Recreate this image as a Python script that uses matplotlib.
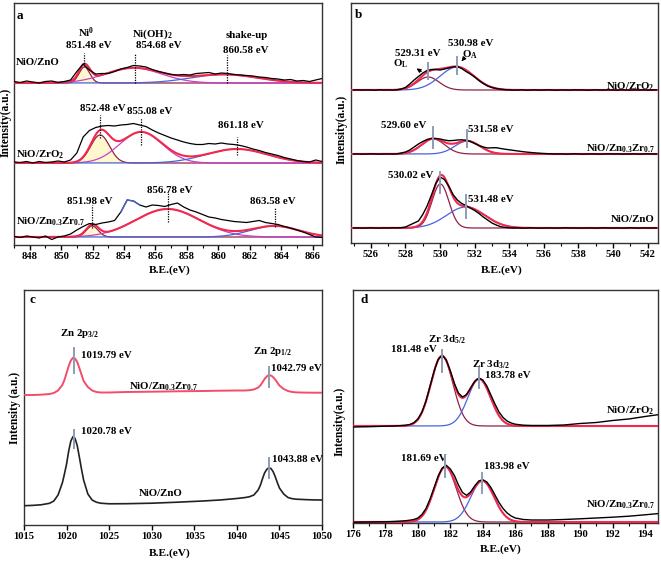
"""XPS spectra of the NiO catalysts: Ni 2p (a), O 1s (b), Zn 2p (c) and Zr 3d (d)."""

import numpy as np
import matplotlib
matplotlib.use("Agg")
import matplotlib.pyplot as plt
from matplotlib.ticker import MultipleLocator

plt.rcParams["font.family"] = "Liberation Serif"
plt.rcParams["font.weight"] = "bold"
plt.rcParams["mathtext.fontset"] = "custom"
plt.rcParams["mathtext.rm"] = "Liberation Serif:bold"
plt.rcParams["mathtext.it"] = "Liberation Serif:bold"
plt.rcParams["mathtext.bf"] = "Liberation Serif:bold"

# --- (a) Ni 2p: measured spectra + fitted components -----------------------
a_energy = np.linspace(847.0, 866.6, 50)
a_zno = [163.5, 162.5, 164, 163, 162, 163.5, 164, 162.5, 163.5, 165,
         173.5, 181, 175, 171, 171.5, 171.5, 173.5, 176, 177.5, 179.5,
         179, 178, 175.5, 173.5, 172, 170.5, 170, 170.5, 170, 171.5,
         172, 172.5, 171, 172, 171.5, 170.5, 170, 169.5, 169, 168,
         167.5, 166.5, 166, 165, 165.5, 164, 164.5, 163.5, 165, 166.5]
a_zro2 = [83, 82.5, 83.5, 82, 83.5, 82.5, 83, 84, 83, 85,
          92, 108, 114.5, 117.5, 119, 119.5, 119, 120, 120.5, 121.5,
          120, 118.5, 115, 112, 109.5, 107, 105, 103, 101.5, 100.5,
          100.5, 101.5, 101, 102, 101, 100.5, 99.5, 98, 96, 94.5,
          92.5, 91, 89.5, 87.5, 86, 84.5, 83.5, 83, 85, 83.5]
a_znzr = [8.5, 7.5, 9, 8, 7, 9, 5.5, 8, 9, 11,
          15, 18.5, 21.5, 20.5, 22, 23, 24.5, 33, 45, 44,
          40, 38, 40, 39.5, 38.5, 40.5, 42, 38, 35, 33,
          30.5, 28, 27, 25.5, 24.5, 23.5, 23, 22.5, 23.5, 24.5,
          22.5, 21.5, 20.5, 18.5, 17, 15, 13, 10.5, 8, 7.5]
a_zno_base, a_zro2_base, a_znzr_base = 162, 82, 8
a_zno_pos = [851.48, 854.6, 860.4]
a_zno_height = [16, 15, 8.5]
a_zno_fwhm = [0.8, 4.2, 5.0]
a_zro2_pos = [852.48, 855.08, 861.18]
a_zro2_height = [28, 31, 14]
a_zro2_fwhm = [1.4, 3.2, 4.6]
a_znzr_pos = [851.98, 856.78, 863.58]
a_znzr_height = [11, 28, 11]
a_znzr_fwhm = [0.9, 4.8, 3.6]

# --- (b) O 1s ----------------------------------------------------------------
b_energy = np.linspace(525.0, 542.5, 71)
b_zro2 = [153, 153.2, 152.9, 153.1, 153, 152.8, 153.2, 153, 153.1, 152.9, 153.2,
          154, 155.5, 159, 163, 166.5, 170, 172.5, 173.5, 173.5, 173, 174, 175,
          176, 176.5, 174.5, 171.5, 169, 166, 162.5, 159.5, 157, 155.5, 154.5,
          153.8, 153.3,
          153.1, 152.9, 153, 153.2, 152.8, 153, 153.1, 152.9, 153, 153.2, 153,
          152.8, 153.1, 153, 152.9, 153.2, 153, 153.1, 152.8, 153, 153.2, 152.9,
          153, 153.1, 153, 152.8, 153.2, 153, 152.9, 153.1, 153, 153.2, 152.9,
          153, 153.1]
b_znzr = [89, 89.1, 88.9, 89, 89.2, 89, 88.9, 89.1, 89, 89, 89.1,
          90, 91, 93, 96, 99, 101.5, 103.5, 104.7, 104.5, 104, 103, 102.3,
          102.5, 103, 103.2, 102.8, 101.5, 99.5, 97.5, 96, 95, 95.2, 95.3,
          94.5, 93.8, 93.2, 92.6, 92, 91.4, 90.9, 90.5, 90.1, 89.8, 89.5,
          89.3, 89.1,
          89, 89.1, 88.9, 89, 89.2, 89, 88.9, 89, 89.1, 89, 88.9, 89, 89.2,
          89, 89.1, 88.9, 89, 89, 89.1, 88.9, 89, 89.2, 89, 89]
b_zno = [15, 15.1, 14.9, 15, 15.2, 15, 14.9, 15.1, 15, 15.2, 15.1, 15.3,
         16, 18, 20, 22, 28.5, 37, 48, 59.5, 66, 63.5, 57, 48.5, 43, 39.5,
         37.5, 35, 32.5, 29.5, 26, 23, 20, 18, 16.3, 15.6, 15.2,
         15, 15.1, 14.9, 15, 15.2, 15, 14.9, 15, 15.1, 15, 14.9, 15, 15.2,
         15, 15.1, 14.9, 15, 15, 15.1, 14.9, 15, 15.2, 15, 15, 15.1, 14.9,
         15, 15.2, 15, 14.9, 15.1, 15, 15, 15.1]
b_zro2_base, b_znzr_base, b_zno_base = 153, 89, 15
b_zro2_pos = [529.31, 530.98]
b_zro2_height = [13, 23]
b_zro2_fwhm = [1.5, 2.3]
b_znzr_pos = [529.60, 531.58]
b_znzr_height = [15, 13]
b_znzr_fwhm = [1.6, 1.7]
b_zno_pos = [530.02, 531.48]
b_zno_height = [44, 21]
b_zno_fwhm = [1.15, 2.6]

# --- (c) Zn 2p ---------------------------------------------------------------
c_energy = [1015, 1016, 1017, 1018, 1018.5, 1019, 1019.5, 1019.75, 1020,
            1020.25, 1020.5, 1020.75, 1021, 1021.25, 1021.5, 1021.75, 1022,
            1022.5, 1023, 1023.5, 1024, 1025, 1027, 1030, 1033, 1036, 1038,
            1040, 1041, 1041.5, 1042, 1042.5, 1042.75, 1043, 1043.25, 1043.5,
            1043.75, 1044, 1044.25, 1044.5, 1044.75, 1045, 1045.5, 1046,
            1046.5, 1047, 1048, 1049, 1050]
c_znzr = [130, 130, 130.3, 131, 132, 134.5, 140, 145, 152, 159, 164.5, 167.3,
          166.5, 163, 157, 150.5, 144, 138, 134.5, 133, 132.5, 132.5, 133,
          133.3, 133.7, 134, 134.3, 134.5, 134.5, 134.8, 135.5, 137.5, 139.5,
          142.5, 146, 148.5, 150, 149.5, 148, 145.5, 142.5, 139.5, 136, 134,
          133, 132.6, 132.4, 132.3, 132.3]
c_zno = [19.3, 19.6, 20.2, 21.7, 24, 30, 42, 51, 61, 74, 84, 88.3, 86.5,
         79.5, 68, 56, 45, 31, 25, 22.8, 21.8, 21.2, 21.3, 21.8, 22.8, 24, 25,
         26.5, 27.5, 28.3, 30, 35, 39.5, 46, 52, 55.5, 57.3, 56.5, 53.5, 48.5,
         42.5, 37, 31, 27.5, 26.3, 25.8, 25.4, 25.1, 25]
c_peak_pos = [1020.85, 1043.8]

# --- (d) Zr 3d ---------------------------------------------------------------
d_energy = [176, 177, 178, 178.5, 179, 179.25, 179.5, 179.75, 180, 180.25,
            180.5, 180.75, 181, 181.25, 181.5, 181.75, 182, 182.25, 182.5,
            182.75, 183, 183.25, 183.5, 183.75, 184, 184.25, 184.5, 184.75,
            185, 185.25, 185.5, 185.75, 186, 186.5, 187, 188, 189, 190, 191,
            192, 193, 194, 194.8]
d_zro2 = [96, 96.3, 96.8, 97, 97.5, 97.8, 98.5, 100.3, 104, 111, 122, 137,
          152, 163.5, 167.7, 163, 152, 139.5, 130, 126, 128.5, 135, 141.5,
          145, 143, 137, 128, 119, 111, 105.5, 102, 100, 98.8, 97.8, 97.5,
          97.5, 98, 99.5, 100.5, 102.5, 104, 106.5, 108.3]
d_znzr = [0.8, 1, 1.2, 1.5, 2, 2.3, 2.8, 3.5, 5, 8.5, 14.5, 24, 35.5, 47, 55,
          57.7, 54, 47.5, 38, 30.5, 27.7, 31, 37, 42, 43.3, 41, 35.5, 28,
          20.5, 14.5, 10, 7, 5, 3.5, 3, 3, 3.5, 4.2, 5, 5.8, 6.8, 8.2, 9.4]
d_zro2_base, d_znzr_base = 97, 1
d_zro2_pos = [181.48, 183.78]
d_zro2_height = [70, 47]
d_zro2_fwhm = [1.6, 1.65]
d_znzr_pos = [181.69, 183.98]
d_znzr_height = [55, 41]
d_znzr_fwhm = [1.6, 1.7]

RED = "#f2284c"
MAROON = "#8e2346"
MAGENTA = "#c640c8"
BLUE = "#4a63d8"
PINK = "#f24d6b"
FILL = "#fff8cf"
MARK = "#8d9db2"
W, H = 661, 564

fig = plt.figure(figsize=(W / 100, H / 100), dpi=100)


def panel(x0, y0, x1, y1, xlim, major, minor=None):
    """Axes placed in pixel coordinates; y data runs in pixels above the bottom spine."""
    ax = fig.add_axes([x0 / W, 1 - y1 / H, (x1 - x0) / W, (y1 - y0) / H])
    ax.set_xlim(*xlim)
    ax.set_ylim(0, y1 - y0)
    ax.set_yticks([])
    ax.xaxis.set_major_locator(MultipleLocator(major))
    if minor:
        ax.xaxis.set_minor_locator(MultipleLocator(minor))
    ax.tick_params(axis="x", which="major", direction="out", length=3.5,
                   width=1, labelsize=7.6, pad=1.5)
    ax.tick_params(axis="x", which="minor", direction="out", length=2, width=0.8)
    for sp in ax.spines.values():
        sp.set_linewidth(1.0)
        sp.set_color("#333333")
    return ax


def gauss(x, center, height, fwhm):
    return height * np.exp(-4 * np.log(2) * (x - center) ** 2 / fwhm ** 2)


def draw_fit(ax, base, pos, height, fwhm, colors, fill_first=False):
    grid = np.linspace(*ax.get_xlim(), 700)
    comps = [gauss(grid, p, h, w) for p, h, w in zip(pos, height, fwhm)]
    if fill_first:
        ax.fill_between(grid, base, base + comps[0], color=FILL, lw=0, zorder=1)
    for comp, col in zip(comps, colors):
        ax.plot(grid, base + comp, color=col, lw=0.9, zorder=2)
    ax.plot(grid, base + sum(comps), color=RED, lw=1.5, zorder=3)


def note(ax, x, y, s, ha="center", size=7.8):
    ax.text(x, y, s, ha=ha, va="center", fontsize=size, fontweight="bold")


def marker(ax, x, y_top, y_bot, dotted=False):
    if dotted:
        ax.plot([x, x], [y_bot, y_top], color="k", lw=0.9, ls=(0, (1, 1)), zorder=5)
    else:
        ax.plot([x, x], [y_bot, y_top], color=MARK, lw=1.4, zorder=5)


# --- panel a -----------------------------------------------------------------
ax = panel(14, 3, 322, 245, (847.0, 866.6), 2, 1)
draw_fit(ax, a_zno_base, a_zno_pos, a_zno_height, a_zno_fwhm,
         [MAROON, MAGENTA, BLUE], fill_first=True)
draw_fit(ax, a_zro2_base, a_zro2_pos, a_zro2_height, a_zro2_fwhm,
         [MAROON, MAGENTA, BLUE], fill_first=True)
draw_fit(ax, a_znzr_base, a_znzr_pos, a_znzr_height, a_znzr_fwhm,
         [MAROON, MAGENTA, BLUE], fill_first=True)
for ys in (a_zno, a_zro2, a_znzr):
    ax.plot(a_energy, ys, color="k", lw=0.9, zorder=4)
seg = (a_energy > 853.5) & (a_energy < 855.3)
ax.plot(a_energy[seg], np.array(a_znzr)[seg], color=BLUE, lw=1.0, zorder=4)

marker(ax, 851.48, 192, 179, dotted=True)
marker(ax, 854.68, 191, 162, dotted=True)
marker(ax, 860.58, 190, 162, dotted=True)
marker(ax, 852.48, 130, 107, dotted=True)
marker(ax, 855.08, 127, 100, dotted=True)
marker(ax, 861.18, 108, 90, dotted=True)
marker(ax, 851.98, 40, 17, dotted=True)
marker(ax, 856.78, 52, 23, dotted=True)
marker(ax, 863.58, 37, 18, dotted=True)

note(ax, 847.15, 229, "a", ha="left", size=9.5)
note(ax, 851.58, 212, "Ni$^{0}$")
note(ax, 851.77, 200, "851.48 eV")
note(ax, 855.78, 211, "Ni(OH)$_{2}$")
note(ax, 856.2, 200, "854.68 eV")
note(ax, 861.83, 210, "shake-up")
note(ax, 861.73, 194.5, "860.58 eV")
note(ax, 847.13, 182.5, "NiO/ZnO", ha="left")
note(ax, 852.67, 136.7, "852.48 eV")
note(ax, 855.66, 133.3, "855.08 eV")
note(ax, 861.45, 120, "861.18 eV")
note(ax, 847.13, 90, "NiO/ZrO$_{2}$", ha="left")
note(ax, 851.84, 43.3, "851.98 eV")
note(ax, 856.93, 54.3, "856.78 eV")
note(ax, 863.49, 44, "863.58 eV")
note(ax, 847.13, 23.3, "NiO/Zn$_{0.3}$Zr$_{0.7}$", ha="left")

# --- panel b -----------------------------------------------------------------
ax = panel(351, 3, 658, 243, (524.85, 542.6), 2, 1)
draw_fit(ax, b_zro2_base, b_zro2_pos, b_zro2_height, b_zro2_fwhm, [MAROON, BLUE])
draw_fit(ax, b_znzr_base, b_znzr_pos, b_znzr_height, b_znzr_fwhm, [MAROON, BLUE])
draw_fit(ax, b_zno_base, b_zno_pos, b_zno_height, b_zno_fwhm, [MAROON, BLUE])
for ys in (b_zro2, b_znzr, b_zno):
    ax.plot(b_energy, ys, color="k", lw=1.0, zorder=4)

marker(ax, 529.31, 180, 164)
marker(ax, 530.98, 186.3, 169)
marker(ax, 529.60, 116.3, 94.7)
marker(ax, 531.58, 113, 96.3)
marker(ax, 530.02, 71.3, 49.7)
marker(ax, 531.48, 48, 24.7)

note(ax, 525.05, 228, "b", ha="left", size=9.5)
note(ax, 528.72, 190, "529.31 eV")
note(ax, 531.75, 199.7, "530.98 eV")
note(ax, 527.74, 179.7, "O$_{\\mathrm{L}}$")
note(ax, 531.73, 188, "O$_{\\mathrm{A}}$")
ax.annotate("", xy=(528.5, 176), xytext=(529.05, 170),
            arrowprops=dict(arrowstyle="-|>", lw=0.8, color="k", mutation_scale=6))
ax.annotate("", xy=(531.15, 179.5), xytext=(531.4, 185),
            arrowprops=dict(arrowstyle="-|>", lw=0.8, color="k", mutation_scale=6))
note(ax, 542.42, 156.3, "NiO/ZrO$_{2}$", ha="right")
note(ax, 527.91, 118, "529.60 eV")
note(ax, 532.94, 113, "531.58 eV")
note(ax, 542.42, 94.7, "NiO/Zn$_{0.3}$Zr$_{0.7}$", ha="right")
note(ax, 528.32, 68, "530.02 eV")
note(ax, 532.94, 43.7, "531.48 eV")
note(ax, 542.42, 24, "NiO/ZnO", ha="right")

# --- panel c -----------------------------------------------------------------
ax = panel(24, 290, 322, 525, (1015, 1050), 5)
ax.plot(c_energy, c_znzr, color=PINK, lw=1.4, zorder=4)
ax.plot(c_energy, c_zno, color="#222222", lw=1.2, zorder=4)
marker(ax, c_peak_pos[0], 176.7, 151.7)
marker(ax, c_peak_pos[1], 158.3, 138.3)
marker(ax, c_peak_pos[0], 95, 76.7)
marker(ax, c_peak_pos[1], 67.3, 46.7)

note(ax, 1015.7, 225, "c", ha="left", size=9.5)
note(ax, 1021.55, 191.7, "Zn 2p$_{3/2}$")
note(ax, 1021.67, 170, "1019.79 eV", ha="left")
note(ax, 1044.2, 173.3, "Zn 2p$_{1/2}$")
note(ax, 1044.02, 156.7, "1042.79 eV", ha="left")
note(ax, 1031.44, 138.5, "NiO/Zn$_{0.3}$Zr$_{0.7}$")
note(ax, 1021.67, 93.3, "1020.78 eV", ha="left")
note(ax, 1044.14, 65, "1043.88 eV", ha="left")
note(ax, 1031.06, 31.7, "NiO/ZnO")

# --- panel d -----------------------------------------------------------------
ax = panel(353, 290, 658, 523, (176, 194.8), 2, 1)
draw_fit(ax, d_zro2_base, d_zro2_pos, d_zro2_height, d_zro2_fwhm, [MAROON, BLUE])
draw_fit(ax, d_znzr_base, d_znzr_pos, d_znzr_height, d_znzr_fwhm, [MAROON, BLUE])
for ys in (d_zro2, d_znzr):
    ax.plot(d_energy, ys, color="k", lw=1.0, zorder=4)

marker(ax, 181.48, 173, 151.3)
marker(ax, 183.78, 154.7, 134.7)
marker(ax, 181.69, 68, 46.3)
marker(ax, 183.98, 49.7, 29.7)

note(ax, 176.45, 223, "d", ha="left", size=9.5)
note(ax, 181.78, 183, "Zr 3d$_{5/2}$")
note(ax, 179.77, 173, "181.48 eV")
note(ax, 184.5, 158, "Zr 3d$_{3/2}$")
note(ax, 185.52, 147.3, "183.78 eV")
note(ax, 194.6, 112, "NiO/ZrO$_{2}$", ha="right")
note(ax, 180.38, 64.7, "181.69 eV")
note(ax, 185.46, 56.3, "183.98 eV")
note(ax, 194.6, 18, "NiO/Zn$_{0.3}$Zr$_{0.7}$", ha="right")

# --- axis titles (placed in figure pixels) ------------------------------------
for x, y in [(170, 270), (502, 270), (170, 553), (501, 549)]:
    fig.text(x / W, 1 - y / H, "B.E.(eV)", ha="center", va="center",
             fontsize=8.2, fontweight="bold")
for x, y, s in [(6, 122.5, "Intensity(a.u.)"), (341.5, 129, "Intensity(a.u.)"),
                (15, 408, "Intensity (a.u.)"), (340, 421, "Intensity(a.u.)")]:
    fig.text(x / W, 1 - y / H, s, ha="center", va="center", rotation=90,
             fontsize=8.3, fontweight="bold")

fig.savefig("out.png", dpi=100)
